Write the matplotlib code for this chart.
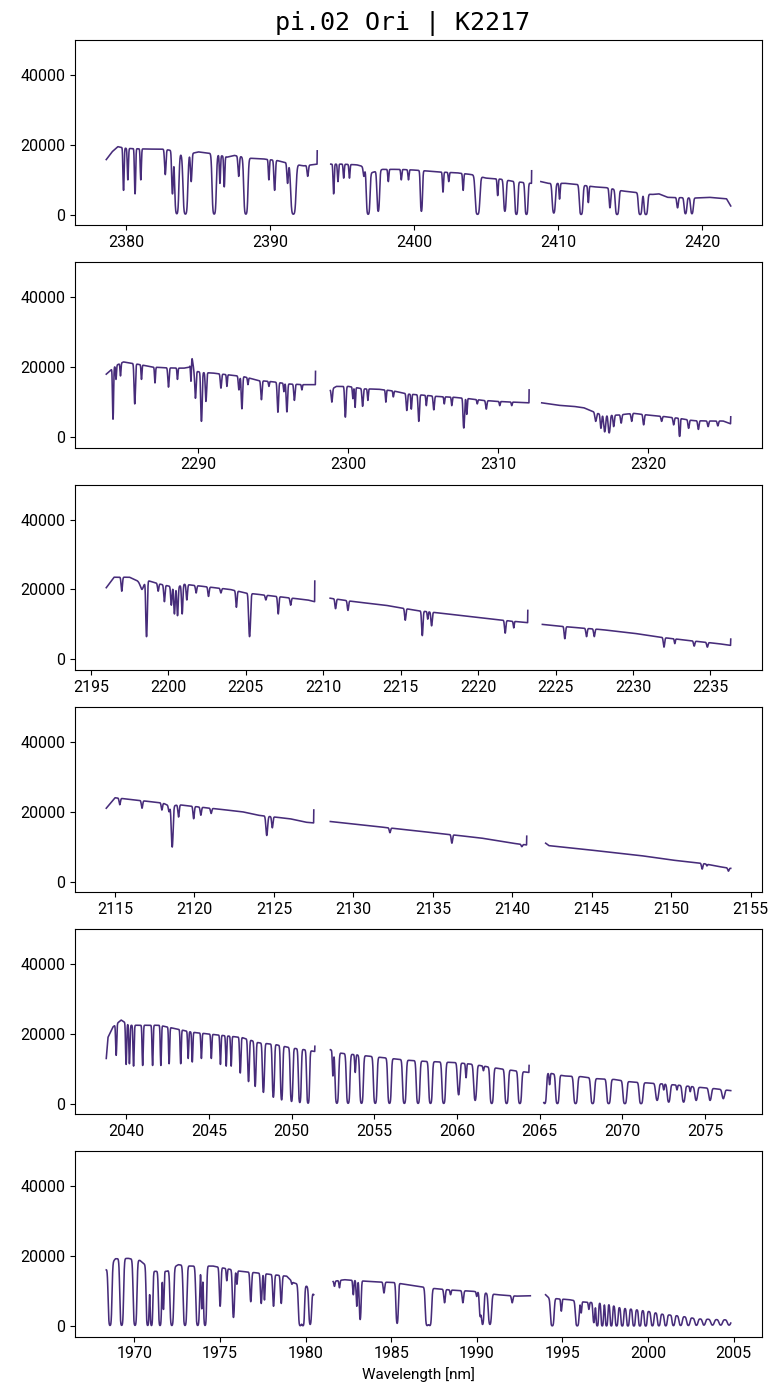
import numpy as np
import matplotlib.pyplot as plt
from matplotlib.ticker import MultipleLocator

TITLE = 'pi.02 Ori | K2217'
LINE_COLOR = '#472c7a'

# ---- order 1 (top) : 2378-2422 nm ----
p1_edges = [(2378.6, 2393.25), (2394.2, 2408.15), (2408.8, 2422.0)]
p1_cont_w = [2378.6, 2379.0, 2379.4, 2380.0, 2381.5, 2382.5, 2383.0, 2384.0, 2385.0, 2386.0,
             2387.0, 2387.5, 2388.5, 2389.5, 2390.5, 2391.0, 2392.3, 2393.25,
             2394.2, 2395.0, 2396.0, 2396.3, 2397.0, 2397.8, 2399.0, 2400.0, 2401.0, 2402.0,
             2403.0, 2404.0, 2405.0, 2406.0, 2407.0, 2408.15,
             2408.8, 2409.3, 2410.5, 2411.3, 2412.5, 2413.3, 2414.5, 2415.2, 2416.5, 2417.0,
             2417.6, 2419.5, 2420.5, 2421.7, 2422.0]
p1_cont_f = [15800, 18000, 19500, 19000, 18800, 18800, 18500, 17000, 18000, 17500,
             16500, 17000, 16200, 16000, 15500, 15000, 14000, 14500,
             14500, 14500, 14300, 14000, 12000, 13000, 13000, 12800, 12500, 12200,
             12000, 11500, 10500, 10200, 9500, 9000,
             9500, 9000, 9000, 8700, 8000, 7800, 6800, 6500, 5800, 6000,
             5000, 4800, 5000, 4600, 2500]
p1_line_w = [2379.8, 2380.1, 2380.6, 2381.0, 2382.7, 2383.2, 2383.5, 2384.1, 2384.5, 2386.1,
             2386.5, 2386.8, 2387.8, 2388.3, 2389.9, 2390.3, 2391.2, 2391.6, 2392.6,
             2394.4, 2394.7, 2395.1, 2395.5, 2396.5, 2396.8, 2397.5, 2398.2, 2399.1, 2399.6,
             2400.5, 2402.0, 2402.4, 2403.4, 2404.4, 2405.8, 2406.3, 2407.1, 2407.8,
             2409.7, 2410.1, 2411.6, 2412.1, 2413.6, 2414.1, 2415.7, 2416.1, 2418.3, 2418.85, 2419.3]
p1_line_f = [7000, 10000, 6000, 10000, 11500, 6000, 300, 0, 9500, 0,
             9000, 8000, 11000, 0, 10000, 7000, 9000, 0, 11000,
             6000, 9500, 10500, 10500, 11000, 0, 1000, 9500, 10000, 10000,
             1000, 6500, 9500, 7000, 0, 5500, 1000, 0, 0,
             500, 4500, 0, 3500, 2000, 0, 0, 0, 2000, 300, 300]
p1_line_s = [.035, .035, .035, .035, .045, .045, .08, .09, .045, .08,
             .035, .035, .045, .08, .035, .045, .045, .10, .045,
             .035, .035, .035, .035, .045, .07, .06, .035, .035, .035,
             .05, .035, .035, .035, .09, .035, .06, .06, .06,
             .07, .035, .07, .035, .045, .07, .07, .07, .045, .06, .06]
p1_spike_w = [2393.26, 2408.16]
p1_spike_f = [18300, 12600]

# ---- order 2 : 2284-2325 nm ----
p2_edges = [(2283.85, 2297.8), (2298.8, 2312.05), (2312.9, 2325.5)]
p2_cont_w = [2283.85, 2284.5, 2285.0, 2286.0, 2287.0, 2288.0, 2289.0, 2289.4, 2289.55, 2289.7,
             2290.2, 2291.0, 2292.0, 2293.0, 2294.0, 2295.0, 2296.0, 2297.0, 2297.8,
             2298.8, 2299.2, 2300.0, 2301.0, 2302.0, 2303.0, 2304.0, 2305.0, 2306.0, 2307.0,
             2308.0, 2309.0, 2310.0, 2311.0, 2312.05,
             2312.9, 2314.0, 2315.0, 2315.7, 2316.5, 2317.0, 2318.0, 2319.0, 2320.0, 2321.0,
             2322.0, 2323.0, 2324.0, 2325.0, 2325.5]
p2_cont_f = [18000, 20500, 21500, 20800, 20000, 19800, 19700, 20000, 23500, 19000,
             18500, 18300, 17800, 17300, 16200, 15800, 15200, 15000, 15000,
             13500, 14500, 14500, 13800, 13700, 13200, 12300, 12000, 11600, 11400,
             11000, 10500, 10200, 10000, 9800,
             9800, 9100, 8800, 8400, 7000, 6200, 6300, 6800, 6300, 5900,
             5400, 4700, 4600, 4600, 3800]
p2_line_w = [2284.3, 2284.5, 2284.8, 2285.75, 2286.2, 2287.1, 2288.0, 2288.6, 2289.5, 2289.8,
             2290.2, 2290.5, 2291.5, 2291.9, 2292.7, 2292.9, 2293.3, 2294.2, 2294.7, 2295.3,
             2295.7, 2295.9, 2296.4, 2296.9,
             2298.9, 2299.8, 2300.3, 2300.45, 2300.95, 2301.3, 2302.5, 2303.0, 2303.9, 2304.2,
             2304.7, 2305.2, 2305.7, 2306.4, 2306.9, 2307.7, 2307.9, 2308.6, 2309.2, 2310.1, 2310.9,
             2316.5, 2316.85, 2317.1, 2317.4, 2317.7, 2318.2, 2318.9, 2319.7, 2320.9, 2321.7,
             2322.1, 2322.7, 2323.35, 2324.0, 2324.65]
p2_line_f = [5100, 16500, 17500, 9500, 16500, 15500, 14300, 16500, 16000, 11100,
             4500, 10200, 14000, 14500, 13500, 8100, 15000, 10700, 14500, 7100,
             13000, 7200, 10500, 13500,
             10000, 5700, 11000, 8500, 8800, 10500, 10000, 11500, 7600, 8000,
             4500, 9000, 7800, 9500, 9000, 2600, 6500, 9500, 8000, 9000, 9000,
             4500, 2500, 1500, 1200, 3000, 4000, 4500, 3500, 4500, 3500,
             200, 2500, 2200, 3000, 3200]
p2_line_s = [.03, .03, .03, .04, .03, .03, .04, .03, .03, .04,
             .04, .04, .04, .03, .04, .04, .03, .04, .03, .04,
             .03, .04, .04, .03,
             .04, .04, .03, .03, .04, .03, .03, .03, .04, .03,
             .04, .03, .04, .03, .03, .04, .03, .03, .04, .03, .03,
             .05, .04, .05, .05, .04, .04, .04, .04, .04, .04,
             .03, .04, .04, .04, .04]
p2_spike_w = [2297.81, 2312.06, 2325.51]
p2_spike_f = [18800, 13500, 5800]

# ---- order 3 : 2196-2236 nm ----
p3_edges = [(2196.0, 2209.45), (2210.45, 2223.2), (2224.15, 2236.3)]
p3_cont_w = [2196.0, 2196.5, 2197.5, 2198.0, 2198.3, 2198.7, 2199.5, 2200.0, 2200.5, 2201.0,
             2202.0, 2203.0, 2204.0, 2205.0, 2206.0, 2207.0, 2208.0, 2209.0, 2209.45,
             2210.45, 2212.0, 2214.0, 2216.0, 2218.0, 2220.0, 2222.0, 2223.2,
             2224.15, 2226.0, 2228.0, 2230.0, 2232.0, 2234.0, 2235.5, 2236.3]
p3_cont_f = [20500, 23500, 23500, 22500, 21500, 22500, 21500, 21000, 20500, 21500,
             21000, 20500, 20000, 19000, 18500, 18000, 17500, 17000, 16500,
             17500, 16500, 15500, 14000, 13000, 12000, 11000, 10500,
             10000, 9200, 8500, 7500, 6200, 5200, 4500, 4000]
p3_line_w = [2197.0, 2198.3, 2198.6, 2199.35, 2199.75, 2200.2, 2200.4, 2200.6, 2200.9, 2201.2,
             2201.8, 2202.6, 2203.4, 2204.4, 2205.25, 2206.3, 2207.1, 2207.9,
             2210.8, 2211.6, 2215.3, 2216.4, 2216.75, 2217.0, 2221.75, 2222.3,
             2225.6, 2227.0, 2227.5, 2232.0, 2232.7, 2233.95, 2234.8]
p3_line_f = [19500, 20000, 6500, 19500, 16500, 15500, 13000, 12500, 13000, 17000,
             19000, 18000, 19000, 14900, 6500, 17000, 13000, 15500,
             14500, 14000, 11200, 6800, 11500, 9600, 7500, 9000,
             5900, 6500, 6500, 3500, 4500, 3800, 3500]
p3_line_s = [.04, .10, .04, .04, .04, .04, .04, .04, .04, .04,
             .04, .04, .04, .04, .05, .04, .04, .04,
             .04, .04, .04, .04, .03, .04, .04, .03,
             .04, .04, .04, .04, .03, .04, .04]
p3_spike_w = [2209.46, 2223.21, 2236.31]
p3_spike_f = [22400, 14000, 5800]

# ---- order 4 : 2114-2154 nm ----
p4_edges = [(2114.45, 2127.5), (2128.55, 2140.9), (2142.1, 2153.75)]
p4_cont_w = [2114.45, 2115.0, 2116.0, 2117.0, 2118.0, 2118.5, 2119.0, 2120.0, 2121.0, 2122.0,
             2123.0, 2124.0, 2125.0, 2126.0, 2127.0, 2127.5,
             2128.55, 2130.0, 2132.0, 2134.0, 2136.0, 2138.0, 2140.0, 2140.9,
             2142.1, 2142.3, 2144.0, 2146.0, 2148.0, 2150.0, 2152.0, 2153.0, 2153.75]
p4_cont_f = [21000, 24000, 23500, 23000, 22500, 21500, 22000, 21500, 21000, 20500,
             20000, 19000, 18500, 18000, 17000, 16800,
             17200, 16500, 15500, 14500, 13500, 12500, 11000, 10500,
             11000, 10300, 9500, 8500, 7500, 6200, 5200, 4300, 3800]
p4_line_w = [2115.3, 2116.7, 2117.95, 2118.4, 2118.6, 2119.0, 2119.95, 2120.4, 2121.05,
             2124.55, 2124.9, 2132.3, 2136.2, 2140.6, 2151.95, 2152.25, 2153.6]
p4_line_f = [22000, 21000, 20500, 20000, 9900, 18500, 18000, 19000, 19500,
             13200, 15400, 14000, 11000, 10000, 3600, 4500, 3000]
p4_line_s = [.04, .04, .04, .04, .05, .04, .04, .04, .04,
             .05, .04, .04, .04, .04, .04, .03, .04]
p4_spike_w = [2127.51, 2140.91]
p4_spike_f = [20500, 13000]

# ---- order 5 : 2039-2077 nm ----
p5_edges = [(2038.8, 2051.4), (2052.35, 2064.35), (2065.25, 2076.55)]
p5_cont_w = [2038.8, 2038.9, 2039.2, 2039.7, 2040.2, 2041.0, 2042.0, 2043.0, 2044.0, 2045.0,
             2046.0, 2047.0, 2048.0, 2049.0, 2050.0, 2050.8, 2051.4,
             2052.35, 2053.0, 2054.0, 2055.0, 2056.0, 2057.0, 2058.0, 2059.0, 2060.0,
             2061.0, 2062.0, 2063.0, 2064.0, 2064.35,
             2065.25, 2065.6, 2066.5, 2067.5, 2068.5, 2069.5, 2070.5, 2071.5, 2072.5,
             2073.5, 2074.5, 2075.5, 2076.55]
p5_cont_f = [13000, 19000, 22000, 24000, 22500, 22500, 22500, 21500, 20500, 20000,
             19500, 19000, 17500, 17000, 16000, 15500, 15000,
             15500, 14500, 14000, 13500, 13000, 12500, 12200, 12000, 11800,
             11300, 10500, 9800, 9200, 9000,
             8800, 8800, 8000, 7800, 7200, 7000, 6300, 6000, 5700,
             5300, 4800, 4400, 3800]
p5_line_w = [2039.4, 2040.0, 2040.2, 2040.45, 2041.0, 2041.6, 2042.1, 2042.6, 2043.3, 2043.75,
             2044.0, 2044.55, 2045.15, 2045.7, 2046.05, 2046.35, 2046.9, 2047.4, 2047.8, 2048.3,
             2048.9, 2049.4, 2050.0, 2050.5, 2051.0,
             2052.5, 2052.74, 2053.42, 2053.85, 2054.23, 2055.06, 2055.92, 2056.82, 2057.65,
             2058.4, 2059.2, 2060.1, 2060.55, 2061.1, 2061.6, 2062.1, 2063.0, 2063.8,
             2065.3, 2065.6, 2066.07, 2067.17, 2068.2, 2069.17, 2070.15, 2071.13, 2072.1,
             2072.5, 2072.8, 2073.3, 2073.7, 2074.1, 2074.46, 2075.3, 2076.1]
p5_line_f = [13900, 11300, 11500, 10800, 11000, 11000, 11000, 11500, 11500, 13000,
             12000, 13000, 13000, 11300, 10800, 10800, 8850, 6400, 5000, 3300,
             1900, 1150, 700, 400, 200,
             8000, 0, 0, 9000, 0, 0, 0, 0, 0,
             0, 0, 2600, 7500, 1000, 9500, 0, 0, 0,
             0, 5500, 0, 0, 0, 0, 0, 0, 1000,
             4000, 500, 4000, 500, 3500, 1000, 1000, 1500]
p5_line_s = [.03, .03, .03, .03, .03, .03, .03, .03, .03, .03,
             .03, .03, .03, .03, .03, .03, .035, .04, .04, .045,
             .045, .045, .05, .05, .05,
             .03, .06, .06, .03, .06, .06, .06, .06, .06,
             .06, .06, .055, .03, .06, .03, .06, .06, .06,
             .06, .03, .06, .065, .065, .065, .065, .065, .065,
             .03, .06, .03, .06, .03, .06, .06, .06]
p5_spike_w = [2051.41, 2064.36]
p5_spike_f = [16500, 11000]

# ---- order 6 (bottom) : 1968-2005 nm ----
p6_edges = [(1968.36, 1980.48), (1981.61, 1993.13), (1994.02, 2004.84)]
p6_cont_w = [1968.36, 1968.9, 1969.65, 1970.33, 1971.1, 1971.9, 1972.57, 1973.26, 1974.6, 1976.18,
             1977.06, 1978.9, 1979.3, 1980.08, 1980.48,
             1981.61, 1982.27, 1984.0, 1985.15, 1986.0, 1987.46, 1988.6, 1989.76, 1991.2,
             1992.35, 1993.13,
             1994.02, 1994.22, 1994.8, 1995.38, 1996.26, 1997.04, 1997.6, 1998.4, 1999.17,
             1999.95, 2000.92, 2001.9, 2002.87, 2004.04, 2004.84]
p6_cont_f = [16200, 19300, 19400, 18800, 15700, 15700, 17600, 17200, 17200, 15700,
             15300, 14300, 12400, 11400, 9000,
             12800, 13300, 12700, 12500, 11800, 10800, 10300, 10000, 9000,
             8600, 8700,
             9000, 8100, 7800, 7600, 6900, 6700, 6400, 5250, 4800,
             4300, 3350, 2900, 2100, 1900, 1800]
p6_line_w = [1968.58, 1969.26, 1970.04, 1970.78, 1971.0, 1971.5, 1971.7, 1972.19, 1972.96, 1973.7,
             1973.94, 1974.13, 1975.01, 1975.4, 1975.79, 1975.99, 1976.8, 1977.41, 1977.6, 1978.13,
             1978.58, 1979.2, 1979.69, 1979.85, 1980.27,
             1981.69, 1981.98, 1982.79, 1982.99, 1983.19, 1984.58, 1985.35, 1987.1, 1987.26, 1988.12,
             1988.47, 1989.19, 1990.0, 1990.2, 1990.34, 1990.77, 1992.07,
             1994.41, 1994.94, 1995.87, 1996.1, 1996.55, 1996.84, 1997.04, 1997.33, 1997.58, 1997.86,
             1998.17, 1998.5, 1998.83, 1999.18, 1999.53, 1999.87, 2000.26, 2000.64, 2001.04, 2001.49,
             2001.91, 2002.36, 2002.83, 2003.27, 2003.77, 2004.25, 2004.74]
p6_line_f = [0, 0, 0, 0, 0, 0, 4800, 0, 0, 0,
             5000, 0, 5700, 13000, 2500, 12000, 7000, 6500, 7500, 5700,
             6500, 12000, 0, 0, 500,
             11400, 11000, 9000, 5700, 1900, 9500, 800, 200, 200, 6700,
             9000, 6700, 8500, 2900, 500, 500, 6700,
             0, 4300, 0, 3800, 4800, 1000, 0, 0, 0, 0,
             0, 0, 0, 0, 0, 0, 100, 100, 100, 150,
             200, 200, 250, 300, 300, 300, 300]
p6_line_s = [.06, .06, .06, .05, .045, .05, .03, .06, .06, .06,
             .03, .05, .04, .03, .045, .03, .04, .04, .03, .04,
             .04, .03, .06, .05, .05,
             .03, .03, .03, .03, .04, .04, .045, .06, .06, .04,
             .03, .04, .03, .04, .05, .06, .04,
             .06, .03, .06, .03, .03, .04, .04, .04, .04, .04,
             .045, .045, .045, .045, .045, .045, .05, .05, .05, .05,
             .06, .06, .06, .06, .07, .07, .07]
p6_spike_w = []
p6_spike_f = []

orders = [
    (p1_edges, p1_cont_w, p1_cont_f, p1_line_w, p1_line_f, p1_line_s, p1_spike_w, p1_spike_f, 10),
    (p2_edges, p2_cont_w, p2_cont_f, p2_line_w, p2_line_f, p2_line_s, p2_spike_w, p2_spike_f, 10),
    (p3_edges, p3_cont_w, p3_cont_f, p3_line_w, p3_line_f, p3_line_s, p3_spike_w, p3_spike_f, 5),
    (p4_edges, p4_cont_w, p4_cont_f, p4_line_w, p4_line_f, p4_line_s, p4_spike_w, p4_spike_f, 5),
    (p5_edges, p5_cont_w, p5_cont_f, p5_line_w, p5_line_f, p5_line_s, p5_spike_w, p5_spike_f, 5),
    (p6_edges, p6_cont_w, p6_cont_f, p6_line_w, p6_line_f, p6_line_s, p6_spike_w, p6_spike_f, 5),
]


def chunk_spectrum(wl, cont_w, cont_f, line_w, line_f, line_s):
    """Continuum times absorption from the line list (optical depth per line)."""
    cont = np.interp(wl, cont_w, cont_f)
    tau = np.zeros_like(wl)
    for c, f, s in zip(line_w, line_f, line_s):
        c0 = np.interp(c, cont_w, cont_f)
        # saturated cores are capped so the troughs stay rounded
        depth = max(-np.log(max(f, 0.012 * c0) / c0), 0.0)
        tau += depth * np.exp(-0.5 * ((wl - c) / s) ** 2)
    return cont * np.exp(-tau)


plt.rcParams['font.family'] = ['Roboto', 'DejaVu Sans']

fig, axes = plt.subplots(6, 1, figsize=(7.72, 13.86), dpi=100)
fig.subplots_adjust(left=0.0972, right=0.987, top=0.9711, bottom=0.0356, hspace=0.2)

for ax, (edges, cw, cf, lw_, lf, ls, sw, sf, step) in zip(axes, orders):
    for a, b in edges:
        wl = np.arange(a, b, 0.004)
        fl = chunk_spectrum(wl, cw, cf, lw_, lf, ls)
        for w, f in zip(sw, sf):
            if a < w <= b + 0.02:
                wl = np.append(wl, w)
                fl = np.append(fl, f)
        ax.plot(wl, fl, color=LINE_COLOR, lw=1.15)
    ax.set_ylim(-3000, 50000)
    ax.set_yticks([0, 20000, 40000])
    ax.xaxis.set_major_locator(MultipleLocator(step))
    ax.tick_params(labelsize=11.5)

fig.text(0.522, 0.9785, TITLE, fontsize=18, family='DejaVu Sans Mono',
         ha='center', va='baseline')
axes[-1].set_xlabel('Wavelength [nm]', fontsize=11)

fig.savefig('out.png', dpi=100)
